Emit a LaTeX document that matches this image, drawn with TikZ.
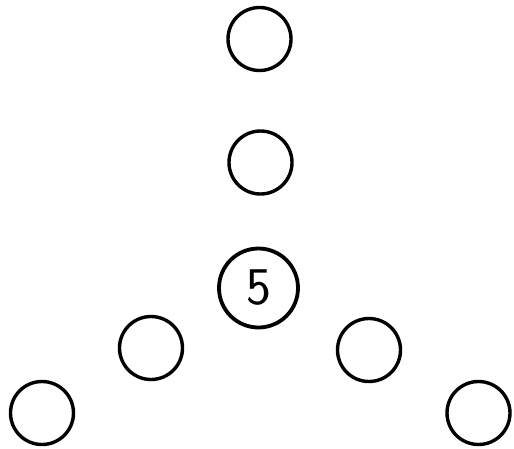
\documentclass[tikz,border=0pt]{standalone}
\begin{document}
\begin{tikzpicture}[x=1pt,y=-1pt,
  ring/.style={circle,draw,line width=3.4pt,minimum size=63pt,inner sep=0pt},
  bigring/.style={circle,draw,line width=3.8pt,minimum size=79pt,inner sep=0pt,font=\sffamily\fontsize{53}{53}\selectfont}]
\useasboundingbox (0,0) rectangle (514,448);
\node[ring] (t1) at (259.5,39) {};
\node[ring] (t2) at (260.5,162.5) {};
\node[bigring] (c) at (258.5,288) {5};
\node[ring] (l1) at (151,348) {};
\node[ring] (r1) at (369,350) {};
\node[ring] (l2) at (42,413) {};
\node[ring] (r2) at (478.5,413) {};
\end{tikzpicture}
\end{document}
